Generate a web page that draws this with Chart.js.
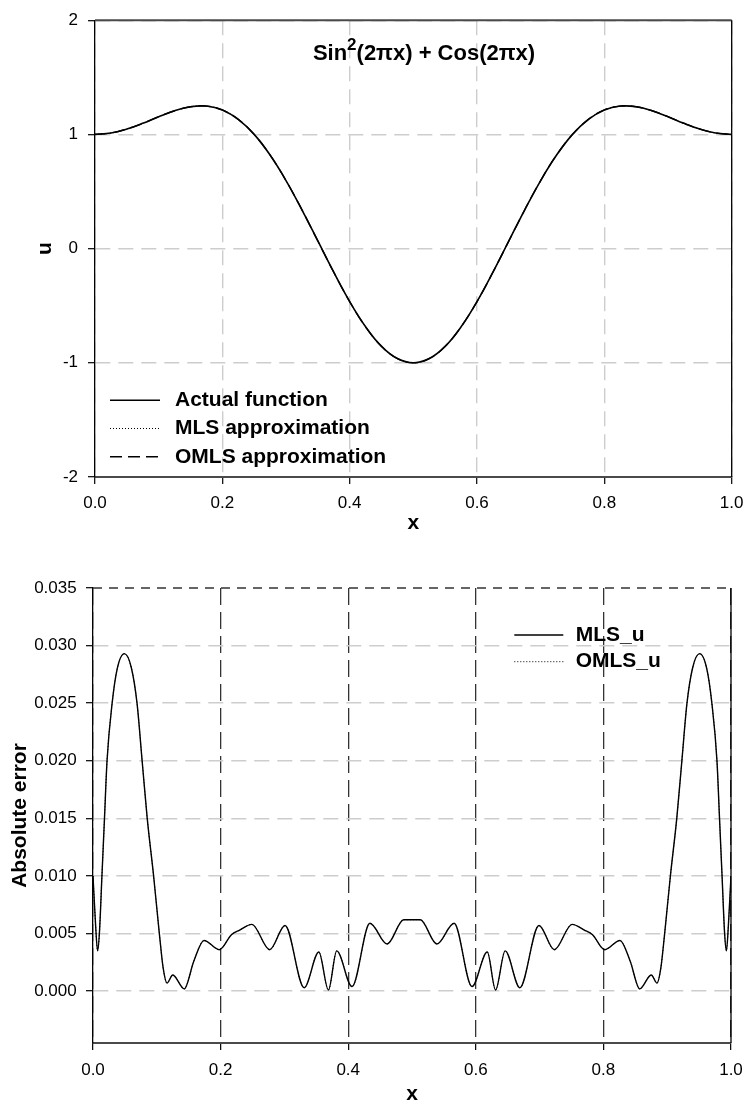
<!DOCTYPE html>
<html>
<head>
<meta charset="utf-8">
<title>MLS / OMLS approximation of Sin²(2πx) + Cos(2πx)</title>
<script src="https://cdn.jsdelivr.net/npm/chart.js@4.4.1/dist/chart.umd.min.js"></script>
<style>
  body { margin: 0; background: #fff; }
  .box { position: absolute; left: 0; width: 753px; }
  #topBox { top: 0; height: 545px; }
  #bottomBox { top: 545px; height: 562px; }
</style>
</head>
<body>
<div class="box" id="topBox"><canvas id="funcChart"></canvas></div>
<div class="box" id="bottomBox"><canvas id="errChart"></canvas></div>
<script>
// u(x) sampled along [0, 1]
const xFunc = [0, 0.025, 0.05, 0.075, 0.1, 0.125, 0.15, 0.175, 0.2, 0.225,
  0.25, 0.275, 0.3, 0.325, 0.35, 0.375, 0.4, 0.425, 0.45, 0.475,
  0.5, 0.525, 0.55, 0.575, 0.6, 0.625, 0.65, 0.675, 0.7, 0.725,
  0.75, 0.775, 0.8, 0.825, 0.85, 0.875, 0.9, 0.925, 0.95, 0.975, 1];
const uActual = [1.000, 1.012, 1.047, 1.097, 1.155, 1.207, 1.242, 1.248, 1.214, 1.132,
  1.000, 0.819, 0.596, 0.340, 0.067, -0.207, -0.464, -0.685, -0.856, -0.963,
  -1.000, -0.963, -0.856, -0.685, -0.464, -0.207, 0.067, 0.340, 0.596, 0.819,
  1.000, 1.132, 1.214, 1.248, 1.242, 1.207, 1.155, 1.097, 1.047, 1.012, 1.000];
// both approximations sit on top of the exact curve
const uMls = uActual.slice();
const uOmls = uActual.slice();

// absolute error of the two approximations
const xErr = [0, 0.004, 0.0072, 0.010, 0.014, 0.018, 0.022, 0.030, 0.038, 0.049,
  0.060, 0.069, 0.077, 0.085, 0.095, 0.104, 0.110, 0.116, 0.125, 0.143,
  0.158, 0.174, 0.198, 0.217, 0.230, 0.249, 0.277, 0.301, 0.331, 0.354,
  0.369, 0.382, 0.406, 0.434, 0.461, 0.487, 0.500, 0.513, 0.539, 0.566,
  0.594, 0.618, 0.631, 0.646, 0.669, 0.699, 0.723, 0.751, 0.770, 0.783,
  0.802, 0.826, 0.842, 0.857, 0.875, 0.884, 0.890, 0.896, 0.905, 0.915,
  0.923, 0.931, 0.940, 0.951, 0.962, 0.970, 0.978, 0.982, 0.986, 0.990,
  0.9928, 0.996, 1];
const errMls = [0.0100, 0.0058, 0.0035, 0.0050, 0.0100, 0.0150, 0.0200, 0.0250, 0.0280, 0.0293,
  0.0281, 0.0250, 0.0200, 0.0150, 0.0100, 0.0050, 0.0020, 0.0007, 0.0014, 0.0002,
  0.0026, 0.0044, 0.0036, 0.0049, 0.0053, 0.0058, 0.0036, 0.0057, 0.0003, 0.0034,
  0.0001, 0.0035, 0.0004, 0.0059, 0.0041, 0.0062, 0.0062, 0.0062, 0.0041, 0.0059,
  0.0004, 0.0034, 0.0001, 0.0035, 0.0003, 0.0057, 0.0036, 0.0058, 0.0053, 0.0049,
  0.0036, 0.0044, 0.0026, 0.0002, 0.0014, 0.0007, 0.0020, 0.0050, 0.0100, 0.0150,
  0.0200, 0.0250, 0.0281, 0.0293, 0.0280, 0.0250, 0.0200, 0.0150, 0.0100, 0.0050,
  0.0035, 0.0058, 0.0100];
const errOmls = errMls.slice();

const FONT = '"Liberation Sans", Arial, sans-serif';
const GRID = '#cdcdcd';

Chart.defaults.font.family = FONT;
Chart.defaults.color = '#000';

const pts = (xs, ys) => xs.map((x, i) => ({ x, y: ys[i] }));

// legend drawn inside the plot box
function insideLegend(o) {
  return {
    id: 'insideLegend',
    afterDraw(chart) {
      const { ctx, chartArea: a } = chart;
      ctx.save();
      ctx.font = 'bold 21px ' + FONT;
      ctx.textBaseline = 'middle';
      ctx.fillStyle = '#000';
      chart.data.datasets.forEach((ds, i) => {
        const x = a.left + o.left;
        const y = a.top + o.top + i * o.row;
        ctx.strokeStyle = ds.borderColor;
        ctx.lineWidth = ds.borderWidth;
        ctx.setLineDash(ds.borderDash || []);
        ctx.beginPath();
        ctx.moveTo(x, y);
        ctx.lineTo(x + o.len, y);
        ctx.stroke();
        ctx.setLineDash([]);
        ctx.fillText(ds.label, x + o.len + o.gap, y);
      });
      ctx.restore();
    }
  };
}

// top and right edges of the plot box
function frame(o) {
  return {
    id: 'frame',
    afterDraw(chart) {
      const { ctx, chartArea: a } = chart;
      ctx.save();
      ctx.strokeStyle = o.topColor;
      ctx.lineWidth = o.topWidth;
      ctx.setLineDash(o.topDash);
      ctx.beginPath();
      ctx.moveTo(a.left, a.top);
      ctx.lineTo(a.right, a.top);
      ctx.stroke();
      ctx.setLineDash([]);
      ctx.strokeStyle = '#000';
      ctx.lineWidth = 1.3;
      ctx.beginPath();
      ctx.moveTo(a.right, a.top);
      ctx.lineTo(a.right, a.bottom);
      ctx.stroke();
      ctx.restore();
    }
  };
}

// formula caption with a superscript
const formula = {
  id: 'formula',
  afterDraw(chart) {
    const { ctx, chartArea: a } = chart;
    const parts = [
      { text: 'Sin', font: 'bold 22px ' + FONT, rise: 0 },
      { text: '2', font: 'bold 17px ' + FONT, rise: 10 },
      { text: '(2\u03c0x) + Cos(2\u03c0x)', font: 'bold 22px ' + FONT, rise: 0 }
    ];
    ctx.save();
    ctx.fillStyle = '#000';
    ctx.textBaseline = 'alphabetic';
    const widths = parts.map(p => { ctx.font = p.font; return ctx.measureText(p.text).width; });
    let x = a.left + 329 - widths.reduce((s, w) => s + w, 0) / 2;
    const y = a.top + 40;
    parts.forEach((p, i) => {
      ctx.font = p.font;
      ctx.fillText(p.text, x, y - p.rise);
      x += widths[i];
    });
    ctx.restore();
  }
};

const tickFont = { size: 17 };
const titleFont = { size: 21, weight: 'bold', lineHeight: 1 };

new Chart(document.getElementById('funcChart'), {
  type: 'line',
  data: {
    datasets: [
      { label: 'Actual function', data: pts(xFunc, uActual), borderColor: '#000', borderWidth: 1.6 },
      { label: 'MLS approximation', data: pts(xFunc, uMls), borderColor: '#000', borderWidth: 1, borderDash: [1, 2] },
      { label: 'OMLS approximation', data: pts(xFunc, uOmls), borderColor: '#000', borderWidth: 1.4, borderDash: [12, 6] }
    ]
  },
  options: {
    responsive: true,
    maintainAspectRatio: false,
    animation: false,
    layout: { padding: { top: 15, right: 15, bottom: 0, left: 0 } },
    elements: { point: { radius: 0 }, line: { tension: 0.4, fill: false } },
    plugins: { legend: { display: false }, tooltip: { enabled: false } },
    scales: {
      x: {
        type: 'linear', min: 0, max: 1,
        afterFit: s => { s.height = 68; },
        ticks: { stepSize: 0.2, font: tickFont, padding: 9.5, callback: v => v.toFixed(1) },
        grid: { color: GRID, lineWidth: 1.4, tickColor: '#000', tickWidth: 1.2, tickLength: 7, tickBorderDash: [] },
        border: { color: '#4a4a4a', width: 2, dash: [15, 8] },
        title: { display: true, text: 'x', font: titleFont, padding: { top: 0, bottom: 10.8 } }
      },
      y: {
        min: -2, max: 2,
        afterFit: s => { s.width = 95; },
        ticks: { stepSize: 1, font: tickFont, padding: 10, callback: v => String(v) },
        grid: { color: GRID, lineWidth: 1.4, tickColor: '#000', tickWidth: 1.2, tickLength: 7, tickBorderDash: [] },
        border: { color: '#000', width: 1.3, dash: [15, 8] },
        title: { display: true, text: 'u', font: titleFont, padding: { top: 34.5, bottom: 0 } }
      }
    }
  },
  plugins: [frame({ topColor: '#4a4a4a', topWidth: 2, topDash: [] }),
    insideLegend({ left: 15, top: 380, row: 28.3, len: 50, gap: 15 }), formula]
});

new Chart(document.getElementById('errChart'), {
  type: 'line',
  data: {
    datasets: [
      { label: 'MLS_u', data: pts(xErr, errMls), borderColor: '#000', borderWidth: 1.4 },
      { label: 'OMLS_u', data: pts(xErr, errOmls), borderColor: '#000', borderWidth: 1, borderDash: [1, 2] }
    ]
  },
  options: {
    responsive: true,
    maintainAspectRatio: false,
    animation: false,
    layout: { padding: { top: 43, right: 22, bottom: 0, left: 0 } },
    elements: { point: { radius: 0 }, line: { cubicInterpolationMode: 'monotone', fill: false } },
    plugins: { legend: { display: false }, tooltip: { enabled: false } },
    scales: {
      x: {
        type: 'linear', min: 0, max: 1,
        afterFit: s => { s.height = 64; },
        ticks: { stepSize: 0.2, font: tickFont, padding: 9.8, callback: v => v.toFixed(1) },
        grid: { color: '#333', lineWidth: 1.3, tickColor: '#000', tickWidth: 1.2, tickLength: 7, tickBorderDash: [] },
        border: { color: '#4a4a4a', width: 2, dash: [17, 7] },
        title: { display: true, text: 'x', font: titleFont, padding: { top: 0, bottom: 2.1 } }
      },
      y: {
        min: -0.0045, max: 0.035,
        afterFit: s => { s.width = 93; },
        afterBuildTicks: s => { s.ticks = s.ticks.filter(t => t.value > -1e-9); },
        ticks: { stepSize: 0.005, font: tickFont, padding: 9.3, callback: v => v.toFixed(3) },
        grid: {
          color: c => (c.tick && c.tick.value > 0.0349 ? 'rgba(0,0,0,0)' : GRID),
          lineWidth: 1.4, tickColor: '#000', tickWidth: 1.2, tickLength: 7, tickBorderDash: []
        },
        border: { color: '#000', width: 1.3, dash: [15, 8] },
        title: { display: true, text: 'Absolute error', font: titleFont, padding: { top: 10, bottom: 0 } }
      }
    }
  },
  plugins: [frame({ topColor: '#333', topWidth: 1.6, topDash: [9, 7] }),
    insideLegend({ left: 421.3, top: 47, row: 26.7, len: 49, gap: 12.4 })]
});
</script>
</body>
</html>
